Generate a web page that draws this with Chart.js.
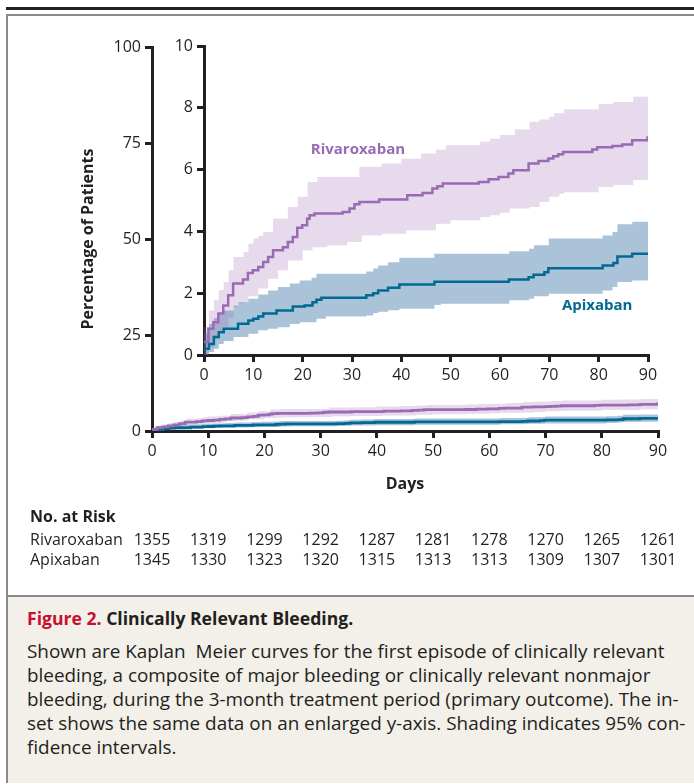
<!DOCTYPE html>
<html><head><meta charset="utf-8">
<script src="https://cdn.jsdelivr.net/npm/chart.js@4.4.1/dist/chart.umd.min.js"></script>
<style>
html,body{margin:0;padding:0;background:#fff;}
body{width:694px;height:784px;position:relative;overflow:hidden;color:#231f20;}
#topbar{position:absolute;left:6px;top:7px;width:700px;height:3px;background:#231f20;}
#frame{position:absolute;left:6px;top:14px;width:720px;height:769px;border:2px solid #8a8a8a;box-sizing:border-box;}
#caption{position:absolute;left:8px;top:595px;width:720px;height:186px;background:#f3f0ea;border-top:2px solid #8a8a8a;font-family:'Open Sans',sans-serif;}
#caption .ct{position:absolute;left:19px;top:9px;font-size:17.6px;font-weight:bold;white-space:nowrap;}
#caption .ct .red{color:#c8102e;}
#caption .cb{position:absolute;left:19px;top:42px;font-size:18.9px;line-height:24px;white-space:nowrap;}
#mainC{position:absolute;left:0;top:0;}
#insetC{position:absolute;left:150px;top:0;}
</style>
</head><body>
<div id="topbar"></div>
<div id="frame"></div>
<canvas id="mainC" width="694" height="590"></canvas>
<canvas id="insetC" width="530" height="400"></canvas>
<div id="caption">
<div class="ct"><span class="red">Figure 2.</span> Clinically Relevant Bleeding.</div>
<div class="cb">Shown are Kaplan&nbsp; Meier curves for the first episode of clinically relevant<br>bleeding, a composite of major bleeding or clinically relevant nonmajor<br>bleeding, during the 3-month treatment period (primary outcome). The in-<br>set shows the same data on an enlarged y-axis. Shading indicates 95% con-<br>fidence intervals.</div>
</div>
<script>
// ---- data ----
const riskDays = [0, 10, 20, 30, 40, 50, 60, 70, 80, 90];
const riskRivaroxaban = [1355, 1319, 1299, 1292, 1287, 1281, 1278, 1270, 1265, 1261];
const riskApixaban = [1345, 1330, 1323, 1320, 1315, 1313, 1313, 1309, 1307, 1301];

const rivDays = [0, 0.9, 1.9, 2.9, 3.9, 4.9, 5.9, 7.9, 8.9, 9.9, 11, 12, 13, 14, 16, 17, 18, 18.9, 19.9, 20.9, 21.4, 22.4, 28.1, 29.5, 30.5, 31.5, 35.5, 41.2, 44.3, 46.3, 47.3, 48.4, 55.7, 57.7, 59.7, 61.7, 62.7, 65.8, 67.8, 69.8, 70.8, 71.8, 72.8, 78.7, 79.7, 82.8, 84.8, 86.8, 89.9, 90];
const rivPct  = [0.42, 0.85, 1.06, 1.34, 1.6, 1.93, 2.31, 2.44, 2.65, 2.74, 2.85, 3.01, 3.17, 3.39, 3.49, 3.66, 3.82, 4.12, 4.2, 4.41, 4.52, 4.58, 4.63, 4.74, 4.88, 4.95, 5.03, 5.17, 5.24, 5.39, 5.46, 5.55, 5.6, 5.69, 5.76, 5.87, 5.98, 6.2, 6.28, 6.36, 6.43, 6.5, 6.57, 6.65, 6.72, 6.76, 6.81, 6.95, 7.04, 7.04];

const rivBandDays = [0, 1, 2, 3, 4, 5, 6, 7, 8, 9, 10, 11, 12, 13, 14, 15, 17, 19, 20, 21, 22, 23, 25, 29, 31.5, 32, 36, 40, 41, 44, 47, 49, 50, 56, 58, 60, 62, 63, 66, 68, 70, 71, 72, 73, 80, 83, 87, 90];
const rivUpper = [0.9, 1.44, 1.77, 2.1, 2.36, 2.74, 3.17, 3.17, 3.33, 3.6, 3.77, 3.85, 3.98, 3.98, 4.41, 4.41, 4.79, 5.12, 5.12, 5.6, 5.6, 5.76, 5.76, 5.76, 6.09, 6.09, 6.2, 6.35, 6.35, 6.52, 6.64, 6.79, 6.79, 6.9, 7.0, 7.12, 7.12, 7.3, 7.55, 7.62, 7.71, 7.82, 7.82, 7.95, 8.12, 8.19, 8.36, 8.36];
const rivLower = [0, 0.25, 0.5, 0.7, 0.9, 1.2, 1.55, 1.67, 1.7, 1.9, 1.9, 2.15, 2.15, 2.47, 2.47, 2.74, 3.06, 3.06, 3.39, 3.39, 3.49, 3.49, 3.55, 3.66, 3.66, 3.87, 3.92, 3.92, 4.04, 4.04, 4.25, 4.25, 4.36, 4.47, 4.52, 4.6, 4.74, 4.74, 4.79, 4.95, 5.12, 5.12, 5.22, 5.27, 5.44, 5.5, 5.66, 5.66];

const apxDays = [0, 1, 2, 3, 4, 6.9, 9, 10, 11, 12, 14.7, 18, 20.4, 22, 22.8, 23.8, 32.9, 34.3, 35.3, 37.3, 39.6, 46.7, 61.8, 65.8, 66.8, 69, 69.8, 80.8, 83, 83.8, 86.8, 90];
const apxPct  = [0.2, 0.36, 0.58, 0.74, 0.85, 1.01, 1.12, 1.17, 1.25, 1.34, 1.44, 1.57, 1.6, 1.71, 1.79, 1.85, 1.93, 2.0, 2.09, 2.18, 2.28, 2.37, 2.44, 2.52, 2.6, 2.68, 2.81, 2.9, 2.98, 3.19, 3.28, 3.28];

const apxBandDays = [0, 1, 2, 3, 4, 6, 7, 9, 11, 13, 15, 17.4, 19.4, 21.8, 22.8, 24.7, 32.9, 34.3, 35.3, 37.3, 39.6, 46.7, 48, 61.9, 65.9, 66.9, 69.9, 80.8, 82.8, 83.8, 86.8, 90];
const apxUpper = [0.7, 1.0, 1.2, 1.3, 1.44, 1.6, 1.71, 1.82, 1.96, 2.09, 2.2, 2.31, 2.41, 2.5, 2.63, 2.63, 2.7, 2.8, 2.9, 3.0, 3.15, 3.28, 3.28, 3.36, 3.44, 3.55, 3.77, 3.87, 3.98, 4.23, 4.31, 4.31];
const apxLower = [0, 0.1, 0.2, 0.36, 0.45, 0.58, 0.58, 0.69, 0.8, 0.85, 0.9, 1.0, 1.06, 1.06, 1.17, 1.25, 1.28, 1.36, 1.4, 1.45, 1.5, 1.62, 1.66, 1.77, 1.82, 1.9, 1.98, 2.09, 2.2, 2.36, 2.41, 2.41];

const mainYTicks = [0, 25, 50, 75, 100];
const insetYTicks = [0, 2, 4, 6, 8, 10];
const xTicks = [0, 10, 20, 30, 40, 50, 60, 70, 80, 90];

// ---- styles ----
const INK = '#231f20';
const PURPLE = '#9a6bb5';
const PURPLE_BAND = 'rgba(155,107,181,0.25)';
const BLUE = '#006a92';
const BLUE_BAND = 'rgba(31,97,152,0.38)';
const NONE = 'rgba(0,0,0,0)';
const FONT = "'Open Sans', sans-serif";

const pts = (xs, ys) => xs.map((x, i) => ({x, y: ys[i]}));

function datasets(lw) {
  return [
    {label: 'Rivaroxaban', data: pts(rivDays, rivPct), borderColor: PURPLE, borderWidth: lw, stepped: true, pointRadius: 0, fill: false, order: 0},
    {label: 'Apixaban', data: pts(apxDays, apxPct), borderColor: BLUE, borderWidth: lw, stepped: true, pointRadius: 0, fill: false, order: 1},
    {label: 'rivLo', data: pts(rivBandDays, rivLower), borderColor: NONE, borderWidth: 0, stepped: true, pointRadius: 0, fill: false, order: 4},
    {label: 'rivHi', data: pts(rivBandDays, rivUpper), borderColor: NONE, borderWidth: 0, backgroundColor: PURPLE_BAND, stepped: true, pointRadius: 0, fill: '-1', order: 3},
    {label: 'apxLo', data: pts(apxBandDays, apxLower), borderColor: NONE, borderWidth: 0, stepped: true, pointRadius: 0, fill: false, order: 6},
    {label: 'apxHi', data: pts(apxBandDays, apxUpper), borderColor: NONE, borderWidth: 0, backgroundColor: BLUE_BAND, stepped: true, pointRadius: 0, fill: '-1', order: 5}
  ];
}

function axis(min, max, ticks, extra) {
  return Object.assign({
    type: 'linear', min, max,
    afterBuildTicks: s => { s.ticks = ticks.map(v => ({value: v})); },
    grid: {display: true, drawOnChartArea: false, drawTicks: true, tickLength: 7, lineWidth: 3, color: INK},
    border: {display: true, width: 3, color: INK},
    ticks: {color: INK, font: {family: FONT, size: 16}, maxRotation: 0, autoSkip: false, padding: 4}
  }, extra);
}

const riskPlugin = {
  id: 'risk',
  afterDraw(chart) {
    const ctx = chart.ctx, x = chart.scales.x;
    ctx.save();
    ctx.fillStyle = INK;
    ctx.textBaseline = 'middle';
    ctx.font = "bold 16px " + FONT;
    ctx.textAlign = 'left';
    ctx.fillText('No. at Risk', 30, 517);
    ctx.font = "16px " + FONT;
    ctx.fillText('Rivaroxaban', 30, 540);
    ctx.fillText('Apixaban', 30, 560);
    ctx.textAlign = 'center';
    riskDays.forEach((d, i) => {
      const px = x.getPixelForValue(d);
      ctx.fillText(String(riskRivaroxaban[i]), px, 540);
      ctx.fillText(String(riskApixaban[i]), px, 560);
    });
    ctx.restore();
  }
};

new Chart(document.getElementById('mainC'), {
  type: 'line',
  data: {datasets: datasets(2.8)},
  plugins: [riskPlugin],
  options: {
    responsive: false, animation: false, devicePixelRatio: 1,
    layout: {padding: {top: 47, right: 36, left: 0, bottom: 0}},
    plugins: {legend: {display: false}, tooltip: {enabled: false}},
    scales: {
      x: axis(0, 90, xTicks, {
        afterFit: s => { s.height = 159; },
        title: {display: true, text: 'Days', color: INK, font: {family: FONT, size: 16, weight: 'bold'}, padding: {top: 0, bottom: 96}}
      }),
      y: axis(0, 100, mainYTicks, {
        afterFit: s => { s.width = 152; },
        title: {display: true, text: 'Percentage of Patients', color: INK, font: {family: FONT, size: 16, weight: 'bold'}, padding: {top: 79, bottom: 0}}
      })
    }
  }
});

const labelPlugin = {
  id: 'labels',
  afterDatasetsDraw(chart) {
    const ctx = chart.ctx, x = chart.scales.x, y = chart.scales.y;
    ctx.save();
    ctx.textAlign = 'center';
    ctx.textBaseline = 'middle';
    ctx.font = "bold 15px " + FONT;
    ctx.fillStyle = PURPLE;
    ctx.fillText('Rivaroxaban', x.getPixelForValue(31.2), y.getPixelForValue(6.63));
    ctx.fillStyle = BLUE;
    ctx.fillText('Apixaban', x.getPixelForValue(79.7), y.getPixelForValue(1.6));
    ctx.restore();
  }
};

new Chart(document.getElementById('insetC'), {
  type: 'line',
  data: {datasets: datasets(2.5)},
  plugins: [labelPlugin],
  options: {
    responsive: false, animation: false, devicePixelRatio: 1,
    layout: {padding: {top: 46, right: 32, left: 0, bottom: 0}},
    plugins: {legend: {display: false}, tooltip: {enabled: false}},
    scales: {
      x: axis(0, 90, xTicks, {afterFit: s => { s.height = 45; }}),
      y: axis(0, 10, insetYTicks, {afterFit: s => { s.width = 54; }})
    }
  }
});
</script>
</body></html>
